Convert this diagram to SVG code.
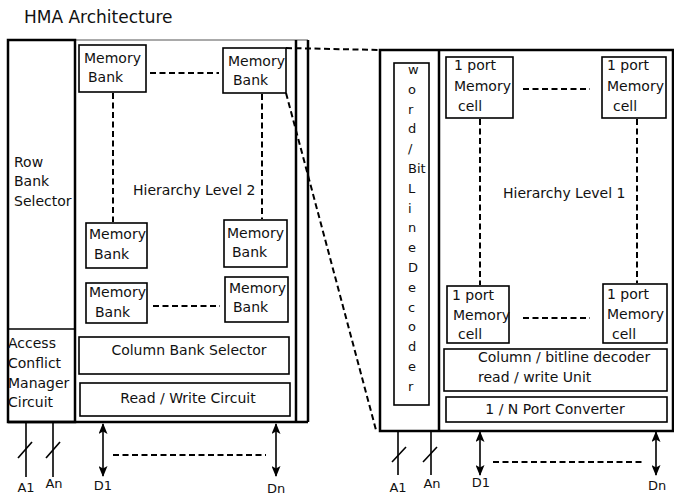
<svg xmlns="http://www.w3.org/2000/svg" width="674" height="497" viewBox="0 0 674 497">
<style>
text{font-family:"DejaVu Sans","Liberation Sans",sans-serif;font-size:14px;fill:#111}
.thick{fill:none;stroke:#000;stroke-width:2.5}
.box{fill:none;stroke:#000;stroke-width:1.6}
.thin{fill:none;stroke:#555;stroke-width:1}
.dash{fill:none;stroke:#000;stroke-width:2;stroke-dasharray:6,3.5}
.wire{fill:none;stroke:#000;stroke-width:1.6}
.arr{fill:none;stroke:#000;stroke-width:1.6;marker-start:url(#ah);marker-end:url(#ah)}
.lbl{font-size:13px;text-anchor:middle}
.mid{text-anchor:middle}
</style>
<defs>
<marker id="ah" viewBox="0 0 11 9" refX="10" refY="4.5" markerWidth="11" markerHeight="9" orient="auto-start-reverse" markerUnits="userSpaceOnUse">
<path d="M0,0 L11,4.5 L0,9 L2.5,4.5 z" fill="#000"/>
</marker>
</defs>

<text id="title" x="24" y="23" style="font-size:17px">HMA Architecture</text>

<!-- Left: Hierarchy Level 2 -->
<g id="level2-frame">
<line class="thin" x1="75" y1="40" x2="308" y2="40"/>
<line class="thick" x1="296" y1="40" x2="296" y2="422"/>
<line class="thick" x1="308" y1="40" x2="308" y2="422"/>
<line class="thick" x1="8" y1="422" x2="308" y2="422"/>
<text x="133" y="195">Hierarchy Level 2</text>
</g>
<g id="row-bank-selector">
<rect class="thick" x="8" y="40" width="67" height="382"/>
<text x="14" y="167">Row</text>
<text x="14" y="186">Bank</text>
<text x="14" y="206">Selector</text>
</g>
<g id="access-conflict-manager">
<line class="box" x1="8" y1="329" x2="75" y2="329"/>
<text x="8" y="348">Access</text>
<text x="8" y="368">Conflict</text>
<text x="8" y="388">Manager</text>
<text x="8" y="407">Circuit</text>
</g>
<g id="mb1">
<rect class="box" x="79" y="45" width="67" height="47"/>
<text x="84" y="63">Memory</text>
<text x="88" y="82">Bank</text>
</g>
<g id="mb2">
<rect class="box" x="223" y="48" width="63" height="45"/>
<text x="228" y="66">Memory</text>
<text x="233" y="85">Bank</text>
</g>
<g id="mb3">
<rect class="box" x="86" y="223" width="61" height="45"/>
<text x="89" y="239">Memory</text>
<text x="94" y="259">Bank</text>
</g>
<g id="mb4">
<rect class="box" x="224" y="220" width="63" height="47"/>
<text x="227" y="238">Memory</text>
<text x="232" y="257">Bank</text>
</g>
<g id="mb5">
<rect class="box" x="86" y="283" width="61" height="40"/>
<text x="89" y="297">Memory</text>
<text x="95" y="317">Bank</text>
</g>
<g id="mb6">
<rect class="box" x="225" y="277" width="63" height="45"/>
<text x="229" y="293">Memory</text>
<text x="233" y="312">Bank</text>
</g>
<g id="column-bank-selector">
<rect class="box" x="79" y="337" width="210" height="37"/>
<text x="189" y="355" class="mid">Column Bank Selector</text>
</g>
<g id="read-write-circuit">
<rect class="box" x="80" y="383" width="210" height="33"/>
<text x="188" y="403" class="mid">Read / Write Circuit</text>
</g>

<!-- Right: Hierarchy Level 1 -->
<g id="level1-frame">
<rect class="thick" x="380" y="50" width="293" height="381"/>
<line class="thick" x1="439" y1="50" x2="439" y2="431"/>
<text x="503" y="198">Hierarchy Level 1</text>
</g>
<g id="word-bit-line-decoder">
<rect class="box" x="394" y="63" width="35" height="342"/>
<text x="408" y="74" style="font-size:13px">w</text>
<text x="408" y="93.8" style="font-size:13px">o</text>
<text x="408" y="113.6" style="font-size:13px">r</text>
<text x="408" y="133.4" style="font-size:13px">d</text>
<text x="408" y="153.2" style="font-size:13px">/</text>
<text x="408" y="173" style="font-size:13px">Bit</text>
<text x="408" y="192.8" style="font-size:13px">L</text>
<text x="408" y="212.6" style="font-size:13px">i</text>
<text x="408" y="232.4" style="font-size:13px">n</text>
<text x="408" y="252.2" style="font-size:13px">e</text>
<text x="408" y="272" style="font-size:13px">D</text>
<text x="408" y="291.8" style="font-size:13px">e</text>
<text x="408" y="311.6" style="font-size:13px">c</text>
<text x="408" y="331.4" style="font-size:13px">o</text>
<text x="408" y="351.2" style="font-size:13px">d</text>
<text x="408" y="371" style="font-size:13px">e</text>
<text x="408" y="390.8" style="font-size:13px">r</text>
</g>
<g id="cell1">
<rect class="box" x="446" y="57" width="67" height="61"/>
<text x="454" y="70">1 port</text>
<text x="454" y="91">Memory</text>
<text x="458" y="111">cell</text>
</g>
<g id="cell2">
<rect class="box" x="602" y="57" width="64" height="61"/>
<text x="607" y="70">1 port</text>
<text x="607" y="91">Memory</text>
<text x="613" y="111">cell</text>
</g>
<g id="cell3">
<rect class="box" x="447" y="286" width="62" height="57"/>
<text x="452" y="300">1 port</text>
<text x="453" y="320">Memory</text>
<text x="458" y="339">cell</text>
</g>
<g id="cell4">
<rect class="box" x="603" y="284" width="64" height="59"/>
<text x="607" y="299">1 port</text>
<text x="607" y="319">Memory</text>
<text x="612" y="339">cell</text>
</g>
<g id="column-bitline-decoder">
<rect class="box" x="444" y="349" width="223" height="42"/>
<text x="478" y="362">Column / bitline decoder</text>
<text x="478" y="382">read / write Unit</text>
</g>
<g id="port-converter">
<rect class="box" x="446" y="397" width="221" height="25"/>
<text x="555" y="414" class="mid">1 / N Port Converter</text>
</g>

<!-- IO labels -->
<g id="io-left">
<text x="26" y="492" class="lbl">A1</text>
<text x="54" y="488" class="lbl">An</text>
<text x="103" y="490" class="lbl">D1</text>
<text x="276" y="493" class="lbl">Dn</text>
</g>
<g id="io-right">
<text x="398" y="492" class="lbl">A1</text>
<text x="432" y="488" class="lbl">An</text>
<text x="481" y="487" class="lbl">D1</text>
<text x="657" y="490" class="lbl">Dn</text>
</g>

<g id="connectors">
<!-- level 2 bank links -->
<line class="dash" x1="150" y1="73" x2="219" y2="73"/>
<line class="dash" x1="113" y1="93" x2="113" y2="222"/>
<line class="dash" x1="262" y1="94" x2="262" y2="219"/>
<line class="dash" x1="153" y1="306" x2="220" y2="306"/>
<!-- zoom lines -->
<line class="dash" x1="286" y1="48" x2="380" y2="50"/>
<line class="dash" x1="286" y1="93" x2="376" y2="430"/>
<!-- level 1 cell links -->
<line class="dash" x1="523" y1="89" x2="590" y2="89"/>
<line class="dash" x1="480" y1="119" x2="480" y2="285"/>
<line class="dash" x1="637" y1="119" x2="637" y2="283"/>
<line class="dash" x1="523" y1="318" x2="590" y2="318"/>
<!-- left IO -->
<line class="wire" x1="26" y1="423" x2="26" y2="477"/>
<line class="wire" x1="53" y1="423" x2="53" y2="477"/>
<line class="wire" x1="18" y1="458" x2="32" y2="442"/>
<line class="wire" x1="46" y1="458" x2="60" y2="442"/>
<line class="arr" x1="103" y1="424" x2="103" y2="476"/>
<line class="arr" x1="276" y1="424" x2="276" y2="476"/>
<line class="dash" x1="113" y1="455" x2="266" y2="455"/>
<!-- right IO -->
<line class="wire" x1="398" y1="432" x2="398" y2="475"/>
<line class="wire" x1="431" y1="432" x2="431" y2="475"/>
<line class="wire" x1="392" y1="462" x2="406" y2="447"/>
<line class="wire" x1="423" y1="462" x2="437" y2="447"/>
<line class="arr" x1="480" y1="432" x2="480" y2="475"/>
<line class="arr" x1="656" y1="432" x2="656" y2="475"/>
<line class="dash" x1="493" y1="462" x2="645" y2="462"/>
</g>
</svg>
